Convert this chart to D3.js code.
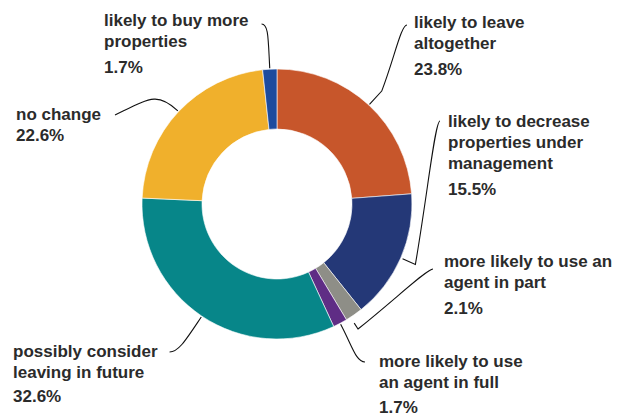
<!DOCTYPE html>
<html>
<head>
<meta charset="utf-8">
<script src="https://cdn.jsdelivr.net/npm/d3@7"></script>
<style>
  html, body { margin: 0; padding: 0; background: #fff; }
  svg { display: block; }
  .lbl { font-family: "Liberation Sans", Arial, sans-serif; font-weight: bold; font-size: 17px; fill: #2b2b2b; }
  .leader { fill: none; stroke: #111; stroke-width: 1.1; }
</style>
</head>
<body>
<svg id="chart" width="633" height="416"></svg>
<script>
// Survey answers, clockwise from 12 o'clock
const categories = [
  "likely to leave altogether",
  "likely to decrease properties under management",
  "more likely to use an agent in part",
  "more likely to use an agent in full",
  "possibly consider leaving in future",
  "no change",
  "likely to buy more properties"
];
const values = [23.8, 15.5, 2.1, 1.7, 32.6, 22.6, 1.7];
const colors = ["#c7562b", "#243877", "#8e8e87", "#5f2d85", "#078689", "#f0b02c", "#1c4b9e"];
const labelLines = [
  ["likely to leave", "altogether"],
  ["likely to decrease", "properties under", "management"],
  ["more likely to use an", "agent in part"],
  ["more likely to use", "an agent in full"],
  ["possibly consider", "leaving in future"],
  ["no change"],
  ["likely to buy more", "properties"]
];

// Label placement and leader-line shape for each slice
const layout = [
  { x: 414, y: 28,  gap: 26, side: "right", end: [-7, -3],  r: 136, da: 0,   len: 18, c1r: 0,  c1k: 0.5, c2: [-6, 0] },
  { x: 448, y: 127, gap: 26, side: "right", end: [-8, -6],  r: 137, da: 0,   len: 14, c1r: 0,  c1k: 0.5, c2: [-5, 0] },
  { x: 444, y: 267, gap: 26, side: "right", end: [-11, 2],  r: 142, da: 1.8, len: 7,  c1r: 0,  c1k: 0.5, c2: [-6, 0] },
  { x: 379, y: 367, gap: 25, side: "right", end: [-14, -5], r: 136, da: 0,   len: 0,  c1r: 25, c1k: 0,   c2: [-9, 0] },
  { x: 13,  y: 357, gap: 24, side: "left",  end: [12, -5],  r: 136, da: 0,   len: 0,  c1r: 28, c1k: 0,   c2: [9, 0] },
  { x: 16,  y: 120, gap: 21, side: "left",  end: [14, -5],  r: 136, da: 0,   len: 0,  c1r: 28, c1k: 0,   c2: [35, -17] },
  { x: 104, y: 26,  gap: 26, side: "left",  end: [13, -2],  r: 136, da: 0,   len: 0,  c1r: 30, c1k: 0,   c2: [7, 0] }
];

const width = 633, height = 416;
const cx = 277, cy = 204;
const innerR = 75, outerR = 135;
const lineH = 21;

const svg = d3.select("#chart");
const g = svg.append("g").attr("transform", `translate(${cx},${cy})`);

const pie = d3.pie().sort(null).value(d => d).startAngle(0).endAngle(2 * Math.PI);
const arcs = pie(values);
const arc = d3.arc().innerRadius(innerR).outerRadius(outerR);

g.selectAll("path.slice")
  .data(arcs)
  .join("path")
  .attr("class", "slice")
  .attr("d", arc)
  .attr("fill", (d, i) => colors[i])
  .attr("stroke", "#fff")
  .attr("stroke-width", 0.6);

// Labels
const labels = svg.selectAll("text.lbl")
  .data(arcs)
  .join("text")
  .attr("class", "lbl")
  .attr("fill", (d, i) => i === 5 ? "#161616" : null)
  .each(function (d, i) {
    const L = layout[i];
    const t = d3.select(this);
    const lines = labelLines[i];
    lines.forEach((s, j) => {
      t.append("tspan").attr("x", L.x).attr("y", L.y + j * lineH).text(s);
    });
    t.append("tspan")
      .attr("x", L.x)
      .attr("y", L.y + (lines.length - 1) * lineH + L.gap)
      .text(d3.format(".1f")(d.data) + "%");
  });

// Leader lines from the ring to each label
const leaders = [];
labels.each(function (d, i) {
  const L = layout[i];
  const firstLen = this.firstChild.getComputedTextLength();
  const tx = (L.side === "left" ? L.x + firstLen : L.x) + L.end[0] - cx;
  const ty = L.y + L.end[1] - cy;
  const a = (d.startAngle + d.endAngle) / 2 + L.da * Math.PI / 180;
  const ux = Math.sin(a), uy = -Math.cos(a);
  const ax = ux * L.r, ay = uy * L.r;
  const ex = ax + ux * L.len, ey = ay + uy * L.len;
  const c1x = ex + ux * L.c1r + (tx - ex) * L.c1k;
  const c1y = ey + uy * L.c1r + (ty - ey) * L.c1k;
  const c2x = tx + L.c2[0], c2y = ty + L.c2[1];
  const p = d3.path();
  p.moveTo(ax, ay);
  if (L.len > 0) p.lineTo(ex, ey);
  p.bezierCurveTo(c1x, c1y, c2x, c2y, tx, ty);
  leaders.push(p.toString());
});

g.selectAll("path.leader")
  .data(leaders)
  .join("path")
  .attr("class", "leader")
  .attr("d", d => d);
</script>
</body>
</html>
